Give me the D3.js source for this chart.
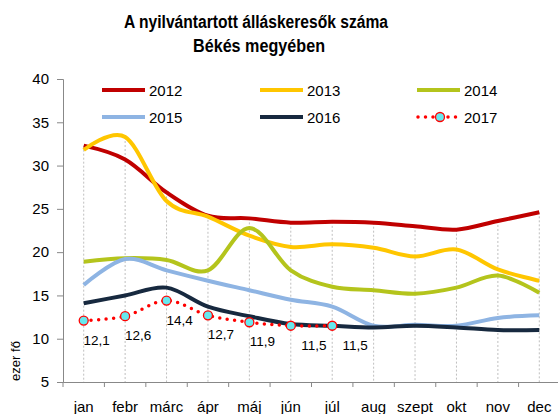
<!DOCTYPE html>
<html>
<head>
<meta charset="utf-8">
<script src="https://cdn.jsdelivr.net/npm/d3@7"></script>
<style>
  body { margin: 0; background: #fff; }
  svg { display: block; font-family: "Liberation Sans", Arial, sans-serif; }
</style>
</head>
<body>
<svg width="558" height="414"></svg>
<script>
// honapok es evek
var months = ["jan", "febr", "márc", "ápr", "máj", "jún", "júl", "aug", "szept", "okt", "nov", "dec"];
var yTicks = [5, 10, 15, 20, 25, 30, 35, 40];

var y2012 = [32.3, 30.7, 26.9, 24.2, 23.9, 23.4, 23.5, 23.4, 23.0, 22.6, 23.6, 24.6];
var y2013 = [31.8, 33.3, 25.9, 24.1, 21.9, 20.6, 20.9, 20.5, 19.5, 20.3, 18.0, 16.7];
var y2014 = [18.9, 19.3, 19.1, 17.9, 22.8, 17.9, 16.0, 15.6, 15.2, 15.9, 17.3, 15.3];
var y2015 = [16.2, 19.2, 17.9, 16.7, 15.6, 14.5, 13.7, 11.5, 11.6, 11.5, 12.4, 12.7];
var y2016 = [14.1, 15.0, 15.9, 13.7, 12.6, 11.7, 11.5, 11.3, 11.5, 11.3, 11.0, 11.0];
var y2017 = [12.1, 12.6, 14.4, 12.7, 11.9, 11.5, 11.5];

var series = [
  {name: "2012", values: y2012, color: "#C00000"},
  {name: "2013", values: y2013, color: "#FFC600"},
  {name: "2014", values: y2014, color: "#B4C41C"},
  {name: "2015", values: y2015, color: "#8EB4E3"},
  {name: "2016", values: y2016, color: "#17293F"}
];

var svg = d3.select("svg");
var mLeft = 63, mRight = 560, mTop = 79, mBottom = 382;

var x = d3.scaleBand().domain(months).range([mLeft, mRight]);
var y = d3.scaleLinear().domain([5, 40]).range([mBottom, mTop]);
var cx = function(i){ return x(months[i]) + x.bandwidth() / 2; };

// cim
var title = svg.append("g")
  .attr("font-family", "'Liberation Sans', Arial, sans-serif")
  .attr("font-weight", "bold")
  .attr("font-size", "18px")
  .attr("text-anchor", "middle")
  .attr("fill", "#000");
title.append("text").attr("x", 256).attr("y", 28)
  .attr("textLength", 264).attr("lengthAdjust", "spacingAndGlyphs")
  .text("A nyilvántartott álláskeresők száma");
title.append("text").attr("x", 259).attr("y", 52)
  .attr("textLength", 132).attr("lengthAdjust", "spacingAndGlyphs")
  .text("Békés megyében");

// fuggoleges szaggatott vonalak (max ertektol)
svg.append("g").selectAll("line")
  .data(months)
  .enter().append("line")
  .attr("x1", function(d, i){ return cx(i); })
  .attr("x2", function(d, i){ return cx(i); })
  .attr("y1", function(d, i){ return y(d3.max(series, function(s){ return s.values[i]; })); })
  .attr("y2", mBottom)
  .attr("stroke", "#BFBFBF")
  .attr("stroke-width", 1)
  .attr("stroke-dasharray", "2,2");

// tengelyek
var yAxis = svg.append("g")
  .attr("transform", "translate(" + mLeft + ",0)")
  .call(d3.axisLeft(y).tickValues(yTicks).tickSize(6).tickPadding(8));
yAxis.selectAll("text").attr("font-size", "15px").attr("fill", "#000")
  .attr("font-family", "'Liberation Sans', Arial, sans-serif");

var xAxis = svg.append("g")
  .attr("transform", "translate(0," + mBottom + ")")
  .call(d3.axisBottom(x).tickSize(0).tickPadding(19));
xAxis.selectAll("text").attr("font-size", "15px").attr("fill", "#000")
  .attr("font-family", "'Liberation Sans', Arial, sans-serif");

// x ticks at band boundaries
xAxis.append("g").selectAll("line")
  .data(d3.range(months.length + 1))
  .enter().append("line")
  .attr("x1", function(i){ return mLeft + i * x.bandwidth(); })
  .attr("x2", function(i){ return mLeft + i * x.bandwidth(); })
  .attr("y1", 0).attr("y2", 5)
  .attr("stroke", "#888");

svg.selectAll(".domain, .tick line").attr("stroke", "#888");

svg.append("text")
  .attr("transform", "translate(20,361) rotate(-90)")
  .attr("text-anchor", "middle")
  .attr("font-size", "13px")
  .text("ezer fő");

var line = d3.line()
  .x(function(d, i){ return cx(i); })
  .y(function(d){ return y(d); })
  .curve(d3.curveCardinal.tension(0));

svg.append("g").selectAll("path")
  .data(series)
  .enter().append("path")
  .attr("d", function(d){ return line(d.values); })
  .attr("fill", "none")
  .attr("stroke", function(d){ return d.color; })
  .attr("stroke-width", 4);

// 2017
svg.append("path")
  .attr("d", line(y2017))
  .attr("fill", "none")
  .attr("stroke", "#FF0000")
  .attr("stroke-width", 3.5)
  .attr("stroke-linecap", "round")
  .attr("stroke-dasharray", "0,7.5");

svg.append("g").selectAll("circle")
  .data(y2017)
  .enter().append("circle")
  .attr("cx", function(d, i){ return cx(i); })
  .attr("cy", function(d){ return y(d); })
  .attr("r", 4.5)
  .attr("fill", "#66E8EE")
  .attr("stroke", "#FF0000")
  .attr("stroke-width", 1.3);

svg.append("g").selectAll("text")
  .data(y2017)
  .enter().append("text")
  .attr("x", function(d, i){ return cx(i) + 13 + (i > 4 ? 10 : 0); })
  .attr("y", function(d){ return y(d) + 24; })
  .attr("text-anchor", "middle")
  .attr("font-size", "13.5px")
  .attr("fill", "#000")
  .text(function(d){ return d3.format(".1f")(d).replace(".", ","); });

// jelmagyarazat
var legendItems = series.concat([{name: "2017", color: "#FF0000", dotted: true}]);
var legend = svg.append("g").selectAll("g")
  .data(legendItems)
  .enter().append("g")
  .attr("transform", function(d, i){
    return "translate(" + [102, 260, 417][i % 3] + "," + (90 + Math.floor(i / 3) * 27) + ")";
  });

legend.filter(function(d){ return !d.dotted; })
  .append("line")
  .attr("x1", 0).attr("x2", 43)
  .attr("stroke", function(d){ return d.color; })
  .attr("stroke-width", 4);

var dl = legend.filter(function(d){ return d.dotted; });
dl.append("line")
  .attr("x1", 1).attr("x2", 43)
  .attr("stroke", "#FF0000")
  .attr("stroke-width", 3.5)
  .attr("stroke-linecap", "round")
  .attr("stroke-dasharray", "0,7.5");
dl.append("circle")
  .attr("cx", 23).attr("r", 4.5)
  .attr("fill", "#66E8EE")
  .attr("stroke", "#FF0000")
  .attr("stroke-width", 1.3);

legend.append("text")
  .attr("x", 47).attr("y", 5.5)
  .attr("font-size", "15px")
  .attr("fill", "#000")
  .text(function(d){ return d.name; });
</script>
</body>
</html>
